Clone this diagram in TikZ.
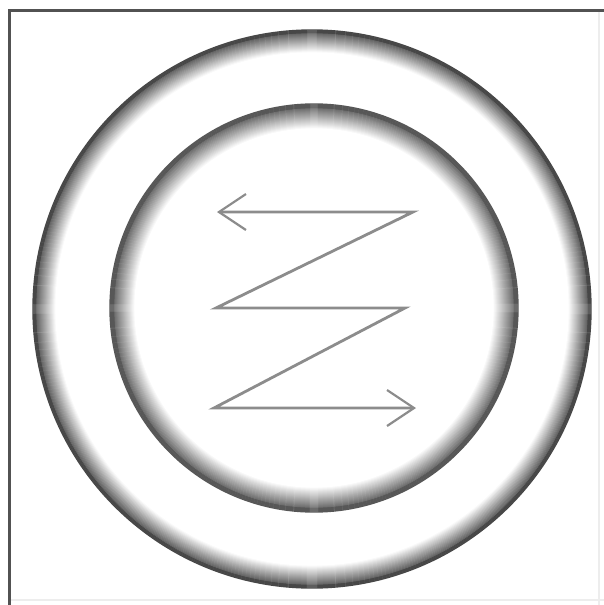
\documentclass[tikz,border=0pt]{standalone}
\usetikzlibrary{arrows.meta}
\begin{document}
\begin{tikzpicture}[x=1pt,y=-1pt,
  framedark/.style={draw=black!68,line width=3pt},
  framefaint/.style={draw=black!7,line width=2pt},
  zz/.style={draw=black!45,line width=2.8pt,line join=miter,
    {Straight Barb[length=27pt,width=36pt,line width=2.2pt]}-{Straight Barb[length=27pt,width=36pt,line width=2.2pt]}}]
\useasboundingbox[fill=white] (0,0) rectangle (604,605);
% frame
\draw[framefaint] (599,10) -- (599,605);
\draw[framefaint] (9,600) -- (604,600);
\draw[framedark] (9,605) -- (9,10) -- (604,10);
% centres
\coordinate (oc) at (312,309);
\coordinate (ic) at (314,308);
% outer ring shading (dark rim fading inward)
\foreach \i in {0,...,24}{
  \pgfmathsetmacro{\p}{\i<4 ? 72 : max(0,60-(\i-4)*3.2)}
  \draw[draw=black!\p,line width=1.4pt] (oc) circle[radius={(279-\i)*1pt}];
}
% inner circle shading
\foreach \i in {0,...,26}{
  \pgfmathsetmacro{\p}{\i<5 ? 66 : max(0,56-(\i-5)*2.8)}
  \draw[draw=black!\p,line width=1.4pt] (ic) circle[radius={(204-\i)*1pt}];
}
% zigzag arrow
\coordinate (a) at (217,212);
\coordinate (b) at (413,212);
\coordinate (c) at (216,308);
\coordinate (d) at (405,308);
\coordinate (e) at (214,408);
\coordinate (f) at (416,408);
\draw[zz] (a) -- (b) -- (c) -- (d) -- (e) -- (f);
\end{tikzpicture}
\end{document}
